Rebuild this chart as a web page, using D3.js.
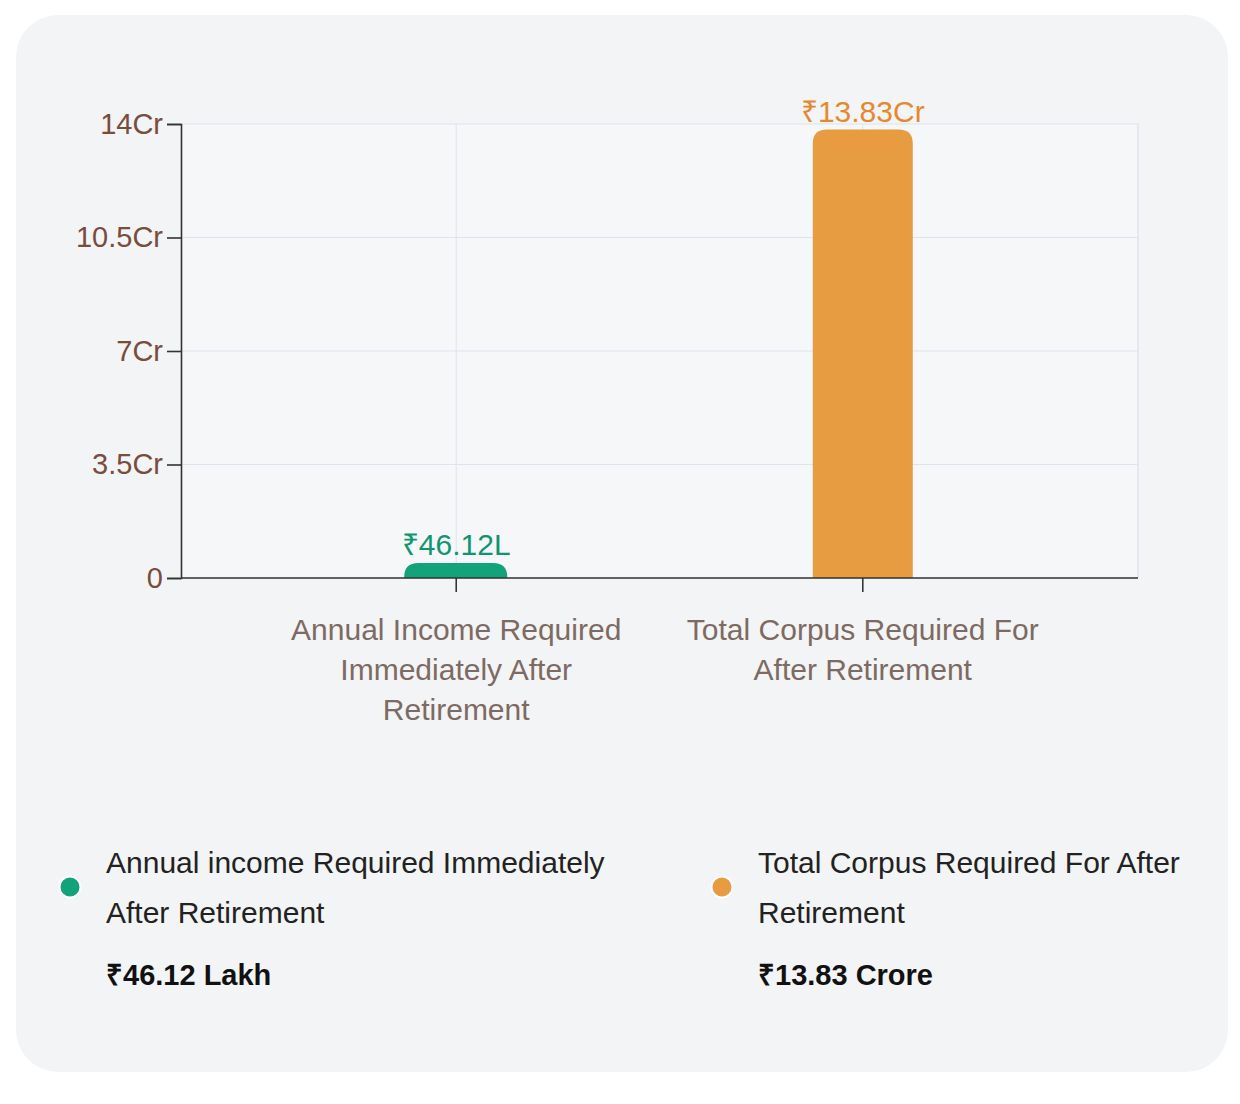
<!DOCTYPE html>
<html>
<head>
<meta charset="utf-8">
<script src="https://cdn.jsdelivr.net/npm/d3@7"></script>
<style>
  html, body { margin: 0; padding: 0; background: #ffffff; }
  body { width: 1240px; height: 1104px; position: relative; font-family: "Liberation Sans", Arial, sans-serif; }
  .card {
    position: absolute; left: 16px; top: 15px; width: 1212px; height: 1057px;
    background: #f3f4f5; border-radius: 42px;
  }
  svg { position: absolute; left: 0; top: 0; }
</style>
</head>
<body>
<div class="card"></div>
<svg id="chart" width="1240" height="1104"></svg>
<script>
// Retirement corpus chart - two bars in crore, legend below
const categories  = ["Annual Income Required Immediately After Retirement",
                     "Total Corpus Required For After Retirement"];
const axisLabels  = [["Annual Income Required", "Immediately After", "Retirement"],
                     ["Total Corpus Required For", "After Retirement"]];
const valuesCr    = [0.4612, 13.83];
const barLabels   = ["₹46.12L", "₹13.83Cr"];
const yTicks      = [0, 3.5, 7, 10.5, 14];
const yTickLabels = ["0", "3.5Cr", "7Cr", "10.5Cr", "14Cr"];
const legendText  = [["Annual income Required Immediately", "After Retirement"],
                     ["Total Corpus Required For After", "Retirement"]];
const legendValue = ["₹46.12 Lakh", "₹13.83 Crore"];
const colors      = ["#12a37b", "#e89c42"];
const labelColors = ["#10966f", "#e8882c"];

const FONT = "'Liberation Sans', Arial, sans-serif";
const svg = d3.select("#chart");

const m = { left: 181, right: 1138, top: 124, bottom: 578 };

const x = d3.scaleBand()
  .domain(categories)
  .range([m.left, m.right])
  .paddingInner(0.754)
  .paddingOuter(0.554);

const y = d3.scaleLinear().domain([0, 14]).range([m.bottom, m.top]);

// Plot area tint
svg.append("rect")
  .attr("x", m.left).attr("y", m.top)
  .attr("width", m.right - m.left).attr("height", m.bottom - m.top)
  .attr("fill", "#f6f7f8");

// Grid
const grid = svg.append("g");
yTicks.forEach(t => {
  grid.append("line")
    .attr("x1", m.left).attr("x2", m.right)
    .attr("y1", y(t)).attr("y2", y(t))
    .attr("stroke", "#dfe3f1").attr("stroke-width", 1);
});
categories.forEach(c => {
  const cx = x(c) + x.bandwidth() / 2;
  grid.append("line")
    .attr("x1", cx).attr("x2", cx)
    .attr("y1", m.top).attr("y2", m.bottom)
    .attr("stroke", "#dfe3f1").attr("stroke-width", 1);
});
grid.append("line")
  .attr("x1", m.right).attr("x2", m.right)
  .attr("y1", m.top).attr("y2", m.bottom)
  .attr("stroke", "#dfe3f1").attr("stroke-width", 1.5);

// Bars with rounded top corners
function topRounded(x0, y0, w, h, r) {
  r = Math.min(r, h, w / 2);
  return `M${x0},${y0 + h}V${y0 + r}Q${x0},${y0} ${x0 + r},${y0}` +
         `H${x0 + w - r}Q${x0 + w},${y0} ${x0 + w},${y0 + r}V${y0 + h}Z`;
}

categories.forEach((c, i) => {
  const bx = x(c) - (i === 0 ? 2 : 0);
  const bw = x.bandwidth() + (i === 0 ? 3 : 0);
  const top = y(valuesCr[i]);
  const h = y(0) - top;
  svg.append("path")
    .attr("d", topRounded(bx, top, bw, h, 14))
    .attr("fill", colors[i]);

  svg.append("text")
    .attr("x", x(c) + x.bandwidth() / 2)
    .attr("y", top - 8)
    .attr("text-anchor", "middle")
    .attr("fill", labelColors[i])
    .attr("font-size", "30px")
    .attr("font-family", FONT)
    .text(barLabels[i]);
});

// Y axis
const yAxisG = svg.append("g")
  .attr("transform", `translate(${m.left},0)`)
  .call(d3.axisLeft(y).tickValues(yTicks)
    .tickFormat((d, i) => yTickLabels[i]).tickSize(14).tickPadding(4));
yAxisG.select(".domain").attr("stroke", "#333").attr("stroke-width", 1.6);
yAxisG.selectAll(".tick line").attr("stroke", "#333").attr("stroke-width", 1.6);
yAxisG.selectAll("text")
  .attr("fill", "#7a4c3c")
  .attr("font-size", "29px")
  .attr("font-family", FONT);

// X axis
const xAxisG = svg.append("g")
  .attr("transform", `translate(0,${m.bottom})`)
  .call(d3.axisBottom(x).tickSize(14).tickFormat(""));
xAxisG.select(".domain").attr("stroke", "#333").attr("stroke-width", 1.6)
  .attr("d", `M${m.left},0H${m.right}`);
xAxisG.selectAll(".tick line").attr("stroke", "#333").attr("stroke-width", 1.6);

categories.forEach((c, i) => {
  const t = svg.append("text")
    .attr("text-anchor", "middle")
    .attr("fill", "#7d6a62")
    .attr("font-size", "30px")
    .attr("font-family", FONT);
  axisLabels[i].forEach((line, j) => {
    t.append("tspan")
      .attr("x", x(c) + x.bandwidth() / 2)
      .attr("y", 640 + j * 40)
      .text(line);
  });
});

// Legend
const legendX = [70, 722];
legendText.forEach((lines, i) => {
  svg.append("circle")
    .attr("cx", legendX[i]).attr("cy", 887).attr("r", 10.5)
    .attr("fill", colors[i]).attr("stroke", "#ffffff").attr("stroke-width", 2);
  const tx = legendX[i] + 36;
  lines.forEach((line, j) => {
    svg.append("text")
      .attr("x", tx).attr("y", 873 + j * 50)
      .attr("fill", "#222")
      .attr("font-size", "30px")
      .attr("font-family", FONT)
      .text(line);
  });
  svg.append("text")
    .attr("x", tx).attr("y", 985)
    .attr("fill", "#111")
    .attr("font-size", "29px")
    .attr("font-weight", "bold")
    .attr("font-family", FONT)
    .text(legendValue[i]);
});
</script>
</body>
</html>
